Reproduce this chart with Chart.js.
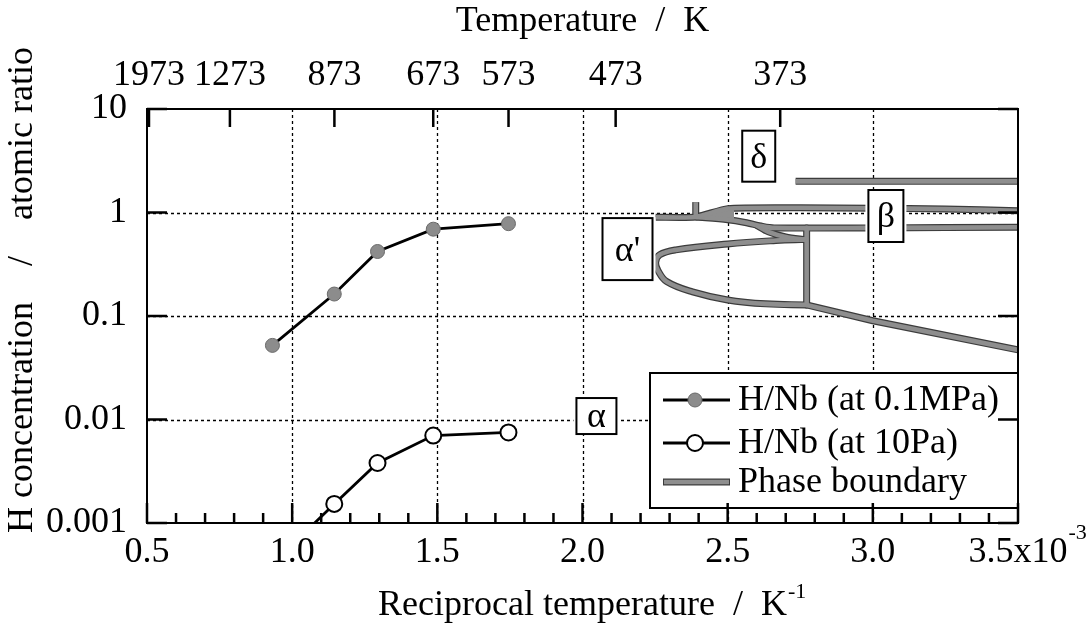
<!DOCTYPE html>
<html>
<head>
<meta charset="utf-8">
<title>H/Nb concentration vs reciprocal temperature</title>
<script src="https://cdn.jsdelivr.net/npm/chart.js@4.4.1/dist/chart.umd.min.js"></script>
<style>
  html, body { margin: 0; padding: 0; background: #fff; }
  #wrap { position: relative; width: 1088px; height: 633px; }
</style>
</head>
<body>
<div id="wrap"><canvas id="hnbChart"></canvas></div>
<script>
// ==========================
// Data (x = 1/T in 10^-3 K^-1)
// ==========================
const recipTemp = [0.932, 1.145, 1.294, 1.486, 1.745];       // 1073, 873, 773, 673, 573 K
const hAt01MPa = [0.052, 0.163, 0.42, 0.69, 0.78];
const hAt10Pa = [0.0004, 0.00153, 0.0038, 0.0070, 0.0075];

// phase boundary curves, [1/T, H/Nb]
const deltaBoundary = [[2.734, 2.0], [3.5, 2.0]];
const betaUpper = [[2.252, 0.90], [2.39, 0.905], [2.50, 1.09], [2.75, 1.11], [3.0, 1.10], [3.25, 1.08], [3.5, 1.04]];
const betaLower = [[2.39, 0.905], [2.50, 0.85], [2.56, 0.80], [2.62, 0.735], [2.66, 0.71], [3.0, 0.71], [3.5, 0.72]];
const betaTick = [[2.39, 0.90], [2.39, 1.26]];
const betaWedge = [[2.39, 0.905], [2.52, 1.10], [2.52, 0.84], [2.39, 0.905]];
const alphaPrimeJoin = [[2.60, 0.75], [2.64, 0.65], [2.70, 0.58], [2.77, 0.545]];
const alphaPrimeGap = [[2.77, 0.55], [2.666, 0.536], [2.50, 0.497], [2.321, 0.435], [2.266, 0.39],
  [2.252, 0.33], [2.26, 0.275], [2.29, 0.215], [2.379, 0.171], [2.50, 0.143], [2.631, 0.131], [2.772, 0.128]];
const alphaSolvus = [[2.772, 0.128], [3.0, 0.09], [3.5, 0.047]];
const eutectoidLine = [[2.772, 0.71], [2.772, 0.128]];

// phase names placed in data coordinates
const phaseNames = ['δ', 'β', "α'", 'α'];
const phaseNameX = [2.607, 3.045, 2.155, 2.048];
const phaseNameY = [3.5, 0.925, 0.443, 0.0108];

// axes
const xTickValues = [0.5, 1.0, 1.5, 2.0, 2.5, 3.0, 3.5];
const xTickLabels = ['0.5', '1.0', '1.5', '2.0', '2.5', '3.0', '3.5x10'];
const yTickValues = [0.001, 0.01, 0.1, 1, 10];
const yTickLabels = ['0.001', '0.01', '0.1', '1', '10'];
const topTemps = [1973, 1273, 873, 673, 573, 473, 373];
const yTitle = 'H concentration    /    atomic ratio';

// ==========================
// Styles
// ==========================
const FONT = "'Liberation Serif', 'Times New Roman', serif";
const phaseBoxSize = [[33, 51], [35, 52], [50, 62], [40, 36]];
const PHASE_DARK = '#3c3c3c';
const PHASE_GRAY = '#8e8e8e';

const pairs = arr => arr.map(p => ({ x: p[0], y: p[1] }));
const points = (xs, ys) => xs.map((v, i) => ({ x: v, y: ys[i] }));

const phaseCurves = [deltaBoundary, betaUpper, betaLower, betaTick, alphaPrimeJoin, alphaPrimeGap, alphaSolvus, eutectoidLine];
const phaseTension = [0, 0.2, 0.3, 0, 0.3, 0.4, 0, 0];

const phaseDatasets = [];
phaseCurves.forEach((c, i) => {
  phaseDatasets.push({
    label: 'Phase boundary', data: pairs(c), borderColor: PHASE_DARK, borderWidth: 7,
    pointRadius: 0, tension: phaseTension[i], order: 3, borderJoinStyle: 'round'
  });
  phaseDatasets.push({
    label: 'Phase boundary', data: pairs(c), borderColor: PHASE_GRAY, borderWidth: 4.6,
    pointRadius: 0, tension: phaseTension[i], order: 2, borderJoinStyle: 'round'
  });
});
phaseDatasets.push({
  label: 'Phase boundary', data: pairs(betaWedge), borderColor: PHASE_GRAY, borderWidth: 1,
  backgroundColor: PHASE_GRAY, fill: 'shape', pointRadius: 0, order: 2
});

const seriesHigh = {
  label: 'H/Nb (at 0.1MPa)', data: points(recipTemp, hAt01MPa),
  borderColor: '#000', borderWidth: 2.8, pointRadius: 7,
  pointBackgroundColor: '#8c8c8c', pointBorderColor: '#6a6a6a', pointBorderWidth: 1, order: 0
};
const seriesLow = {
  label: 'H/Nb (at 10Pa)', data: points(recipTemp, hAt10Pa),
  borderColor: '#000', borderWidth: 2.8, pointRadius: 8,
  pointBackgroundColor: '#fff', pointBorderColor: '#000', pointBorderWidth: 2, order: 0
};

// ==========================
// Frame, ticks, grid, labels, legend
// ==========================
const paperPlugin = {
  id: 'paper',
  beforeDatasetsDraw(chart) {
    const { ctx, chartArea: a, scales: { x, y } } = chart;
    ctx.save();
    ctx.strokeStyle = '#000';
    ctx.lineWidth = 1.3;
    ctx.setLineDash([3, 3]);
    ctx.beginPath();
    xTickValues.slice(1, -1).forEach(v => {
      const px = Math.round(x.getPixelForValue(v)) + 0.5;
      ctx.moveTo(px, a.top); ctx.lineTo(px, a.bottom);
    });
    yTickValues.slice(1, -1).forEach(v => {
      const py = Math.round(y.getPixelForValue(v)) + 0.5;
      ctx.moveTo(a.left, py); ctx.lineTo(a.right, py);
    });
    ctx.stroke();
    ctx.restore();
  },
  afterDatasetsDraw(chart) {
    const { ctx, chartArea: a, scales: { x, y } } = chart;
    ctx.save();

    // phase name boxes
    ctx.font = `36px ${FONT}`;
    ctx.textAlign = 'center';
    ctx.textBaseline = 'middle';
    phaseNames.forEach((name, i) => {
      const cx = x.getPixelForValue(phaseNameX[i]);
      const cy = y.getPixelForValue(phaseNameY[i]);
      const [w, h] = phaseBoxSize[i];
      ctx.fillStyle = '#fff';
      ctx.fillRect(cx - w / 2 - 3, cy - h / 2 - 1, w + 6, h + 2);
      ctx.lineWidth = 2;
      ctx.strokeStyle = '#000';
      ctx.strokeRect(cx - w / 2, cy - h / 2, w, h);
      ctx.fillStyle = '#000';
      ctx.fillText(name, cx, cy + 2);
    });

    // legend box
    const lg = { left: a.left + 503, top: a.top + 264, right: a.right, bottom: a.bottom - 15 };
    ctx.fillStyle = '#fff';
    ctx.fillRect(lg.left, lg.top, lg.right - lg.left, lg.bottom - lg.top);
    ctx.lineWidth = 2;
    ctx.strokeStyle = '#000';
    ctx.strokeRect(lg.left, lg.top, lg.right - lg.left, lg.bottom - lg.top);
    const rowY = [lg.top + 27, lg.top + 70, lg.top + 109];
    const lx0 = lg.left + 13, lx1 = lg.left + 80, mx = lg.left + 45;
    [seriesHigh, seriesLow].forEach((s, i) => {
      ctx.strokeStyle = '#000'; ctx.lineWidth = 2.8;
      ctx.beginPath(); ctx.moveTo(lx0, rowY[i]); ctx.lineTo(lx1, rowY[i]); ctx.stroke();
      ctx.beginPath(); ctx.arc(mx, rowY[i], s.pointRadius, 0, Math.PI * 2);
      ctx.fillStyle = s.pointBackgroundColor; ctx.fill();
      ctx.lineWidth = s.pointBorderWidth; ctx.strokeStyle = s.pointBorderColor; ctx.stroke();
    });
    ctx.strokeStyle = PHASE_DARK; ctx.lineWidth = 7;
    ctx.beginPath(); ctx.moveTo(lx0, rowY[2]); ctx.lineTo(lx1, rowY[2]); ctx.stroke();
    ctx.strokeStyle = PHASE_GRAY; ctx.lineWidth = 4.6;
    ctx.beginPath(); ctx.moveTo(lx0 + 1, rowY[2]); ctx.lineTo(lx1 - 1, rowY[2]); ctx.stroke();
    ctx.fillStyle = '#000';
    ctx.textAlign = 'left';
    [seriesHigh.label, seriesLow.label, 'Phase boundary'].forEach((t, i) => ctx.fillText(t, lg.left + 88, rowY[i] + 1));

    // frame
    ctx.strokeStyle = '#000';
    ctx.lineWidth = 2;
    ctx.strokeRect(a.left, a.top, a.right - a.left, a.bottom - a.top);

    // inward tick marks
    ctx.lineWidth = 2.5;
    ctx.beginPath();
    for (let i = 5; i <= 35; i++) {
      const px = x.getPixelForValue(i / 10);
      const len = i % 5 === 0 ? 20 : 10;
      ctx.moveTo(px, a.bottom); ctx.lineTo(px, a.bottom - len);
    }
    topTemps.forEach(T => {
      const px = x.getPixelForValue(1000 / T);
      ctx.moveTo(px, a.top); ctx.lineTo(px, a.top + 18);
    });
    yTickValues.forEach(v => {
      const py = y.getPixelForValue(v);
      ctx.moveTo(a.left, py); ctx.lineTo(a.left + 20, py);
      ctx.moveTo(a.right, py); ctx.lineTo(a.right - 20, py);
    });
    ctx.stroke();
    ctx.restore();
  },
  afterDraw(chart) {
    const { ctx, chartArea: a, scales: { x } } = chart;
    ctx.save();
    ctx.fillStyle = '#000';
    ctx.textBaseline = 'middle';
    ctx.textAlign = 'left';
    ctx.font = `36px ${FONT}`;
    const wLast = ctx.measureText(xTickLabels[xTickLabels.length - 1]).width;
    const wTitle = ctx.measureText(x.options.title.text).width;
    // vertical axis title
    ctx.save();
    ctx.translate(23, 290);
    ctx.rotate(-Math.PI / 2);
    ctx.textAlign = 'center';
    ctx.fillText(yTitle, 0, 0);
    ctx.restore();
    // exponents on last x tick label and x title
    ctx.font = `22px ${FONT}`;
    ctx.fillText('-3', x.getPixelForValue(3.5) + wLast / 2 + 1, a.bottom + 10);
    ctx.fillText('-1', (a.left + a.right) / 2 + wTitle / 2 + 1, 592);
    ctx.restore();
  }
};

// ==========================
// Chart
// ==========================
const axisFont = { family: FONT, size: 36 };

new Chart(document.getElementById('hnbChart').getContext('2d'), {
  type: 'line',
  data: { datasets: [seriesHigh, seriesLow].concat(phaseDatasets) },
  options: {
    responsive: true,
    maintainAspectRatio: false,
    animation: false,
    layout: { padding: 0 },
    plugins: { legend: { display: false }, tooltip: { enabled: false } },
    scales: {
      x: {
        type: 'linear', position: 'bottom', min: 0.5, max: 3.5,
        afterBuildTicks: s => { s.ticks = xTickValues.map(v => ({ value: v })); },
        afterFit: s => { s.height = 110; },
        ticks: { autoSkip: false, maxRotation: 0, padding: 8, color: '#000', font: axisFont,
          callback: (v, i) => xTickLabels[i] },
        grid: { display: false, drawTicks: false },
        border: { display: false },
        title: { display: true, text: 'Reciprocal temperature  /  K', color: '#000', font: axisFont,
          padding: { top: 0, bottom: 6 } }
      },
      x2: {
        type: 'linear', position: 'top', min: 0.5, max: 3.5,
        afterBuildTicks: s => { s.ticks = topTemps.map(T => ({ value: 1000 / T })); },
        afterFit: s => { s.height = 109; },
        ticks: { autoSkip: false, maxRotation: 0, padding: 12, color: '#000', font: axisFont,
          callback: (v, i) => String(topTemps[i]) },
        grid: { display: false, drawTicks: false },
        border: { display: false },
        title: { display: true, text: 'Temperature  /  K', color: '#000', font: axisFont,
          padding: { top: 0, bottom: 0 } }
      },
      y: {
        type: 'logarithmic', position: 'left', min: 0.001, max: 10,
        afterBuildTicks: s => { s.ticks = yTickValues.map(v => ({ value: v })); },
        afterFit: s => { s.width = 147; },
        ticks: { autoSkip: false, padding: 20, color: '#000', font: axisFont,
          callback: (v, i) => yTickLabels[i] },
        grid: { display: false, drawTicks: false },
        border: { display: false }
      },
      y2: {
        type: 'logarithmic', position: 'right', min: 0.001, max: 10,
        afterFit: s => { s.width = 70; },
        ticks: { display: false },
        grid: { display: false, drawTicks: false },
        border: { display: false }
      }
    }
  },
  plugins: [paperPlugin]
});
</script>
</body>
</html>
